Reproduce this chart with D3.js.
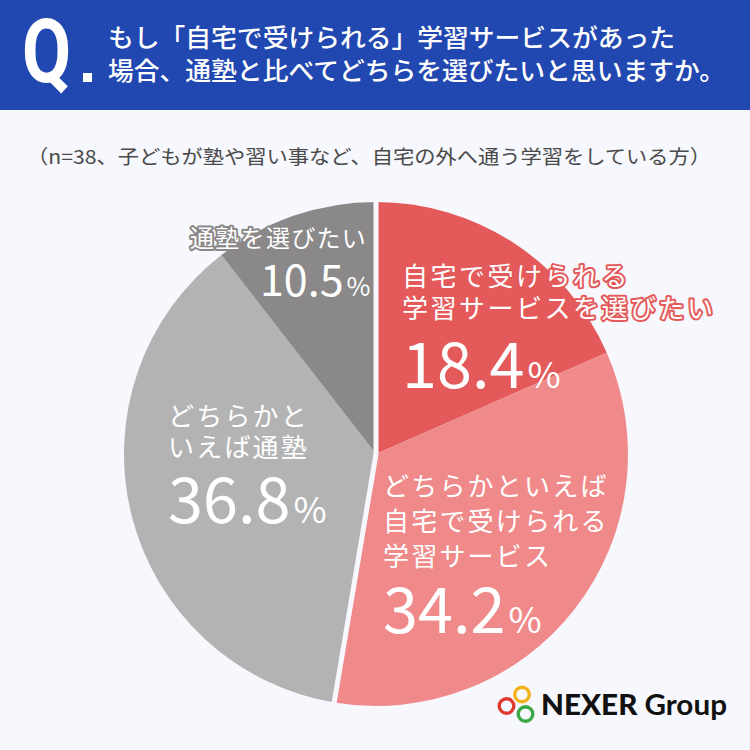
<!DOCTYPE html>
<html>
<head>
<meta charset="utf-8">
<script src="https://cdn.jsdelivr.net/npm/d3@7"></script>
<style>
  html, body { margin:0; padding:0; background:#f7f8fd; }
  svg { display:block; }
  text { font-family:"Noto Sans CJK JP", "Noto Sans", sans-serif; }
</style>
</head>
<body>
<div id="chart"></div>
<script>
// data
var titleLines = ["もし「自宅で受けられる」学習サービスがあった", "場合、通塾と比べてどちらを選びたいと思いますか。"];
var subtitle = "（n=38、子どもが塾や習い事など、自宅の外へ通う学習をしている方）";
var categories = ["自宅で受けられる学習サービスを選びたい", "どちらかといえば自宅で受けられる学習サービス", "どちらかといえば通塾", "通塾を選びたい"];
var values = [18.4, 34.2, 36.8, 10.5];
var labelLines = [
	["自宅で受けられる", "学習サービスを選びたい"],
	["どちらかといえば", "自宅で受けられる", "学習サービス"],
	["どちらかと", "いえば通塾"],
	["通塾を選びたい"]
];

var W = 750, H = 750;
var bg = "#f7f8fd";
var colors = ["#e45a5a", "#f08a8a", "#b3b3b3", "#8a8888"];

// label layout: offsets from pie centre (left x, first baseline, line step, number baseline)
var cx = 376, cy = 454, R = 252;
var labelPos = [
	{x: 26, y: -168, step: 32, ny: -66, fs: 26, ls: 2.5, nfs: 63, pfs: 36, outline: true},
	{x: 7, y: 42, step: 35, ny: 179, fs: 26, ls: 2.2, nfs: 63, pfs: 36, outline: false},
	{x: -208, y: -28, step: 31, ny: 69, fs: 26, ls: 2.2, nfs: 63, pfs: 36, outline: false},
	{x: -186, y: -207, step: 0, ny: -158, fs: 24, ls: 1.3, nfs: 43, pfs: 26, outline: true, numX: -116}
];

var svg = d3.select("#chart").append("svg")
	.attr("width", W)
	.attr("height", H);

svg.append("rect").attr("width", W).attr("height", H).attr("fill", bg);

// header band
svg.append("rect").attr("width", W).attr("height", 110).attr("fill", "#2147b0");
svg.append("text")
	.text("Q")
	.attr("transform", "translate(22,82) scale(0.8,1)")
	.attr("fill", "#fff")
	.style("font-family", "Roboto")
	.style("font-weight", 700)
	.style("font-size", "89px");
svg.append("rect").attr("x", 83).attr("y", 73).attr("width", 9).attr("height", 9).attr("fill", "#fff");

var titleW = [567, 617];
titleLines.forEach(function(t, i){
	svg.append("text")
		.text(t)
		.attr("x", 108)
		.attr("y", 47 + i*33)
		.attr("textLength", titleW[i])
		.attr("lengthAdjust", "spacingAndGlyphs")
		.attr("fill", "#fff")
		.style("font-weight", 500)
		.style("font-size", "25px");
});

svg.append("text")
	.text(subtitle)
	.attr("x", 27)
	.attr("y", 164)
	.attr("textLength", 684)
	.attr("lengthAdjust", "spacingAndGlyphs")
	.attr("fill", "#4a4a4a")
	.style("font-size", "19.5px");

// pie
var pie = d3.pie().sort(null).value(function(d){ return d; });
var arcs = pie(values);
var arc = d3.arc().innerRadius(0).outerRadius(R);

var g = svg.append("g").attr("transform", "translate(" + cx + "," + cy + ")");
g.selectAll("path.slice")
	.data(arcs)
	.enter()
	.append("path")
	.attr("class", "slice")
	.attr("d", arc)
	.attr("fill", function(d, i){ return colors[i]; });

// gap between "home" group and "juku" group
[arcs[0].startAngle, arcs[1].endAngle].forEach(function(a){
	g.append("line")
		.attr("x1", 0).attr("y1", 0)
		.attr("x2", Math.sin(a)*(R+4))
		.attr("y2", -Math.cos(a)*(R+4))
		.attr("stroke", bg)
		.attr("stroke-width", 5);
});

// labels
arcs.forEach(function(d, i){
	var p = labelPos[i];
	labelLines[i].forEach(function(line, j){
		var t = g.append("text")
			.text(line)
			.attr("x", p.x)
			.attr("y", p.y + j*p.step)
			.attr("fill", "#fff")
			.style("font-weight", 400)
			.style("font-size", p.fs + "px")
			.style("letter-spacing", p.ls + "px");
		if(p.outline){
			t.attr("stroke", colors[i])
				.attr("stroke-width", 4)
				.attr("stroke-linejoin", "round")
				.style("paint-order", "stroke");
		}
	});
	var num = g.append("text")
		.attr("x", p.numX !== undefined ? p.numX : p.x)
		.attr("y", p.ny)
		.attr("fill", "#fff")
		.style("font-weight", 400);
	num.append("tspan")
		.text(d.data.toFixed(1))
		.style("font-size", p.nfs + "px");
	num.append("tspan")
		.text("%")
		.attr("dx", 3)
		.style("font-size", p.pfs + "px");
});

// logo
var logo = svg.append("g");
var rings = [
	{x: 506.5, y: 706, c: "#e0392f"},
	{x: 522, y: 694.5, c: "#f2b21b"},
	{x: 525.5, y: 714, c: "#3aa845"}
];
rings.forEach(function(r){
	logo.append("circle")
		.attr("cx", r.x).attr("cy", r.y).attr("r", 7.3)
		.attr("fill", "none")
		.attr("stroke", r.c)
		.attr("stroke-width", 3.4);
});
var lt = logo.append("text")
	.attr("x", 541)
	.attr("y", 715)
	.attr("textLength", 186)
	.attr("lengthAdjust", "spacingAndGlyphs")
	.attr("fill", "#111")
	.style("font-family", "Lato")
	.style("font-size", "28px");
lt.append("tspan").text("NEXER ").style("font-weight", 900);
lt.append("tspan").text("Group").style("font-weight", 700);
</script>
</body>
</html>
